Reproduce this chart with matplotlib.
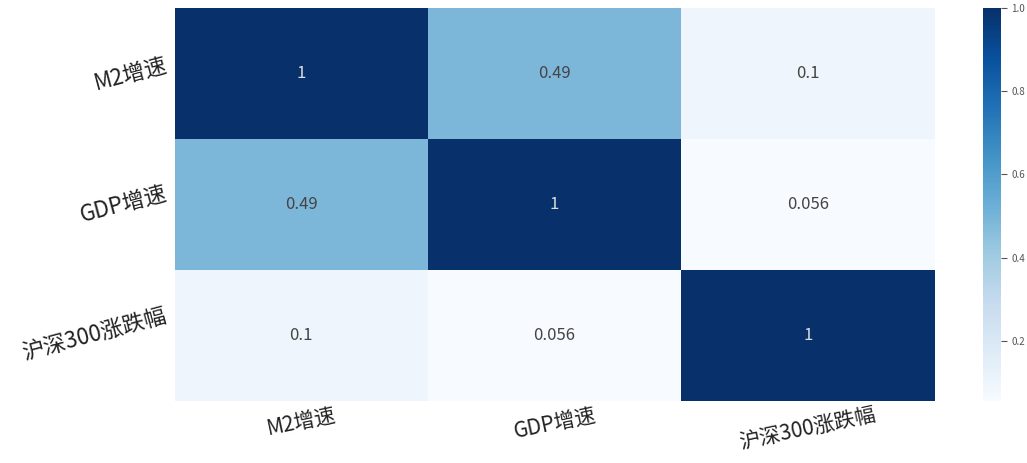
import numpy as np
import pandas as pd
import seaborn as sns
import matplotlib.pyplot as plt

labels = ['M2增速', 'GDP增速', '沪深300涨跌幅']
corr = [[1.0, 0.49, 0.1],
        [0.49, 1.0, 0.056],
        [0.1, 0.056, 1.0]]

df = pd.DataFrame(corr, index=labels, columns=labels)

plt.rcParams['font.family'] = ['Noto Sans CJK SC', 'DejaVu Sans']

fig = plt.figure(figsize=(10.27, 4.63), dpi=100)
ax = fig.add_axes([0.170, 0.134, 0.740, 0.849])
cax = fig.add_axes([0.957, 0.134, 0.0175, 0.849])

sns.heatmap(df, annot=True, cmap='Blues', ax=ax, cbar_ax=cax,
            annot_kws={'fontsize': 12, 'color': '#444444'})
# light text on the dark diagonal cells
for t in ax.texts:
    if t.get_text() == '1':
        t.set_color('#dddddd')

ax.set_xticklabels(labels, rotation=12, fontsize=15, color='#222222')
ax.set_yticklabels(labels, rotation=15, fontsize=16, va='center', color='#222222')
ax.tick_params(axis='x', length=0, pad=2)
ax.tick_params(axis='y', length=0)
cax.tick_params(labelsize=7, length=4, labelcolor='#555555', color='#555555')

plt.savefig('out.png')
